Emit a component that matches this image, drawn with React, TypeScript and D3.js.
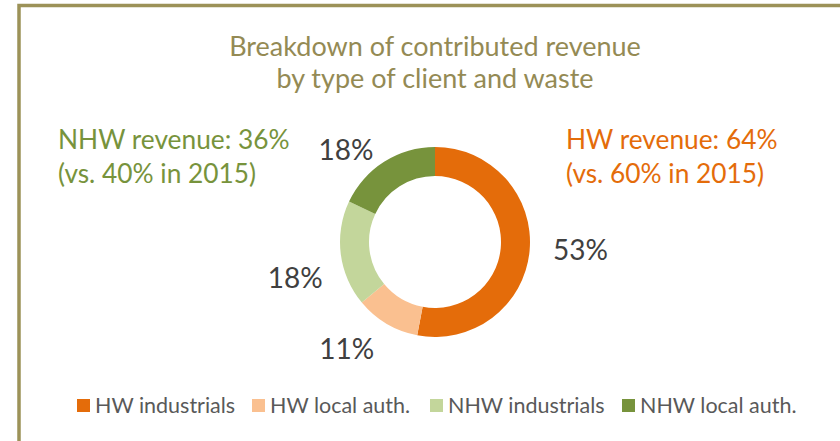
import React, { useEffect, useRef } from "react";
import * as d3 from "d3";

const categories = ["HW industrials", "HW local auth.", "NHW industrials", "NHW local auth."];
const shares = [53, 11, 18, 18];
const colors = ["#E46C0A", "#FAC090", "#C3D69B", "#77933C"];
const titleLines = ["Breakdown of contributed revenue", "by type of client and waste"];
const hwNote = ["HW revenue: 64%", "(vs. 60% in 2015)"];
const nhwNote = ["NHW revenue: 36%", "(vs. 40% in 2015)"];

// Excel "best fit" label offsets from the label arc
const labelNudge = [
  [6, -5],
  [-17, -14],
  [-1, 18],
  [-14, 26],
];

const W = 840;
const H = 441;
const FONT = "Lato, 'Open Sans', sans-serif";

const App = () => {
  const svgRef = useRef<SVGSVGElement>(null);

  useEffect(() => {
    const svg = d3.select(svgRef.current);
    svg.selectAll("*").remove();

    // frame (top and left edges visible)
    svg
      .append("path")
      .attr("d", `M19,${H} L19,5.5 L${W},5.5`)
      .attr("fill", "none")
      .attr("stroke", "#9C9258")
      .attr("stroke-width", 3.5);

    svg
      .append("g")
      .selectAll("text")
      .data(titleLines)
      .enter()
      .append("text")
      .attr("x", 435)
      .attr("y", (_, i) => 56 + i * 32)
      .attr("text-anchor", "middle")
      .attr("font-family", FONT)
      .attr("font-size", 27)
      .attr("fill", "#948A54")
      .text((d) => d);

    const cx = 435;
    const cy = 242;
    const outerR = 95;
    const innerR = 66;

    const pie = d3
      .pie<number>()
      .sort(null)
      .value((d) => d);
    const arcs = pie(shares);
    const arc = d3.arc<d3.PieArcDatum<number>>().innerRadius(innerR).outerRadius(outerR);
    const labelArc = d3.arc<d3.PieArcDatum<number>>().innerRadius(140).outerRadius(140);

    const g = svg.append("g").attr("transform", `translate(${cx},${cy})`);
    g.selectAll("path")
      .data(arcs)
      .enter()
      .append("path")
      .attr("d", arc)
      .attr("fill", (_, i) => colors[i]);

    g.selectAll("text")
      .data(arcs)
      .enter()
      .append("text")
      .attr("transform", (d, i) => {
        const [x, y] = labelArc.centroid(d);
        return `translate(${x + labelNudge[i][0]},${y + labelNudge[i][1]})`;
      })
      .attr("text-anchor", "middle")
      .attr("dy", "0.36em")
      .attr("font-family", FONT)
      .attr("font-size", 28)
      .attr("fill", "#404040")
      .text((d) => `${d.data}%`);

    const notes = [
      { lines: nhwNote, x: 58, color: "#77933C" },
      { lines: hwNote, x: 566, color: "#E46C0A" },
    ];
    notes.forEach((n) => {
      svg
        .append("g")
        .selectAll("text")
        .data(n.lines)
        .enter()
        .append("text")
        .attr("x", n.x)
        .attr("y", (_, i) => 149 + i * 34)
        .attr("font-family", FONT)
        .attr("font-size", 26.3)
        .attr("fill", n.color)
        .text((d) => d);
    });

    // legend
    const legendX = [77, 252, 430, 622];
    const legend = svg
      .append("g")
      .selectAll("g")
      .data(categories)
      .enter()
      .append("g")
      .attr("transform", (_, i) => `translate(${legendX[i]},399)`);
    legend
      .append("rect")
      .attr("width", 13)
      .attr("height", 13)
      .attr("fill", (_, i) => colors[i]);
    legend
      .append("text")
      .attr("x", 18)
      .attr("y", 14)
      .attr("font-family", FONT)
      .attr("font-size", 21.5)
      .attr("fill", "#595959")
      .text((d) => d);
  }, []);

  return (
    <svg
      ref={svgRef}
      width={W}
      height={H}
      style={{ position: "absolute", left: 0, top: 0, background: "#fff" }}
    />
  );
};

export default App;
